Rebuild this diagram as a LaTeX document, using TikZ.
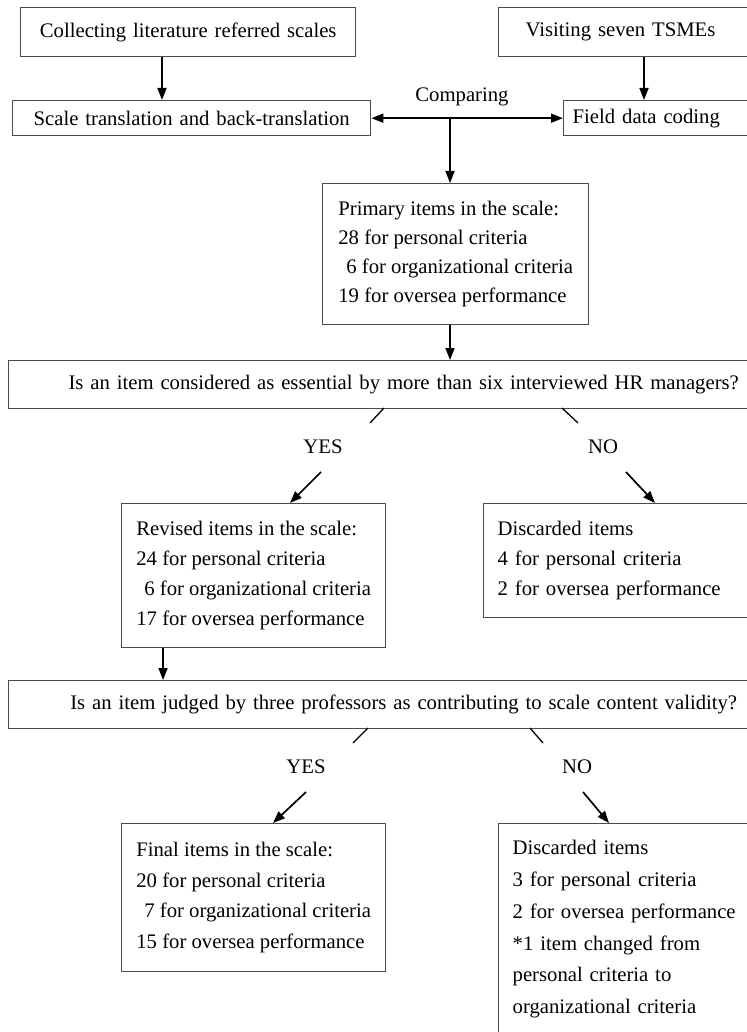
\documentclass[tikz,border=0pt]{standalone}
\usepackage{fontspec}
\setmainfont{Liberation Serif}
\usetikzlibrary{arrows.meta}
\definecolor{boxline}{HTML}{4A4A4A}

\begin{document}
\begin{tikzpicture}[x=1pt, y=-1pt, >={Triangle[length=12pt, width=9pt]},
    every node/.style={font=\fontsize{20.7}{30}\selectfont},
    box/.style={draw=boxline, line width=1.4pt, anchor=north west, inner ysep=0pt},
    single/.style={box, align=center, inner xsep=0pt},
    multi/.style={box, align=left, inner xsep=0pt},
    cut/.style={box, align=left},
    lbl/.style={inner sep=0pt},
    arrow/.style={line width=1.7pt},
    slash/.style={line width=1.3pt}]

    \useasboundingbox (0,0) rectangle (746,1032);

    % sources
    \node[single, text width=335pt, minimum height=49pt] at (20, 7) (collect) {Collecting literature referred scales};
    \node[cut, text width=240pt, inner xsep=27pt, minimum height=49pt] at (498, 7) (visit) {Visiting seven TSMEs};
    \node[single, text width=358pt, minimum height=35pt] at (12, 100) (translate) {Scale translation and back-translation};
    \node[cut, text width=200pt, inner xsep=9pt, minimum height=35pt] at (563, 100) (coding) {Field data coding};
    \node[lbl] at (462, 97) (compare) {Comparing};

    % first screening
    \node[multi, minimum width=266pt, minimum height=141pt, font=\fontsize{20.7}{29}\selectfont] at (322, 183) (primary)
        {Primary items in the scale:\\28 for personal criteria\\\hspace*{8pt}6 for organizational criteria\\19 for oversea performance};
    \node[single, text width=790pt, minimum height=48pt] at (8, 360) (essential)
        {Is an item considered as essential by more than six interviewed HR managers?};
    \node[multi, minimum width=264pt, minimum height=144pt] at (121, 503) (revised)
        {Revised items in the scale:\\24 for personal criteria\\\hspace*{8pt}6 for organizational criteria\\17 for oversea performance};
    \node[cut, text width=260pt, inner xsep=14pt, minimum height=114pt] at (483, 503) (drop1)
        {Discarded items\\4 for personal criteria\\2 for oversea performance};

    % second screening
    \node[single, text width=790pt, minimum height=48pt] at (8, 680) (validity)
        {Is an item judged by three professors as contributing to scale content validity?};
    \node[multi, minimum width=264pt, minimum height=148pt, font=\fontsize{20.7}{30.5}\selectfont] at (121, 823) (final)
        {Final items in the scale:\\20 for personal criteria\\\hspace*{8pt}7 for organizational criteria\\15 for oversea performance};
    \node[cut, text width=260pt, inner xsep=14pt, minimum height=211pt, font=\fontsize{20.7}{31.8}\selectfont] at (498, 823) (drop2)
        {Discarded items\\3 for personal criteria\\2 for oversea performance\\{}*1 item changed from\\personal criteria to\\organizational criteria};

    \node[lbl] at (323, 447) (yes1) {YES};
    \node[lbl] at (603, 447) (no1) {NO};
    \node[lbl] at (306, 767) (yes2) {YES};
    \node[lbl] at (577, 767) (no2) {NO};

    % where the runs go
    \coordinate (litx) at (162, 0);
    \coordinate (visx) at (644, 0);
    \coordinate (cmpx) at (450, 0);
    \coordinate (revx) at (163, 0);

    \coordinate (yes1a) at (384, 408); \coordinate (yes1b) at (370, 423);
    \coordinate (yes1c) at (321, 472); \coordinate (yes1d) at (290, 503);
    \coordinate (no1a) at (562, 408); \coordinate (no1b) at (578, 423);
    \coordinate (no1c) at (626, 472); \coordinate (no1d) at (655, 503);
    \coordinate (yes2a) at (368, 728); \coordinate (yes2b) at (353, 743);
    \coordinate (yes2c) at (306, 792); \coordinate (yes2d) at (273, 823);
    \coordinate (no2a) at (530, 728); \coordinate (no2b) at (543, 743);
    \coordinate (no2c) at (583, 792); \coordinate (no2d) at (609, 823);

    \path[->] (collect.south -| litx) edge[arrow] (translate.north -| litx);
    \path[->] (visit.south -| visx) edge[arrow] (coding.north -| visx);
    \path[<->] (translate.east) edge[arrow] (coding.west);
    \path[->] (translate.east -| cmpx) edge[arrow] (primary.north -| cmpx);
    \path[->] (primary.south -| cmpx) edge[arrow] (essential.north -| cmpx);
    \path[->] (revised.south -| revx) edge[arrow] (validity.north -| revx);

    \path (yes1a) edge[slash] (yes1b);
    \path (no1a) edge[slash] (no1b);
    \path (yes2a) edge[slash] (yes2b);
    \path (no2a) edge[slash] (no2b);
    \path[->] (yes1c) edge[arrow] (yes1d);
    \path[->] (no1c) edge[arrow] (no1d);
    \path[->] (yes2c) edge[arrow] (yes2d);
    \path[->] (no2c) edge[arrow] (no2d);
\end{tikzpicture}
\end{document}
